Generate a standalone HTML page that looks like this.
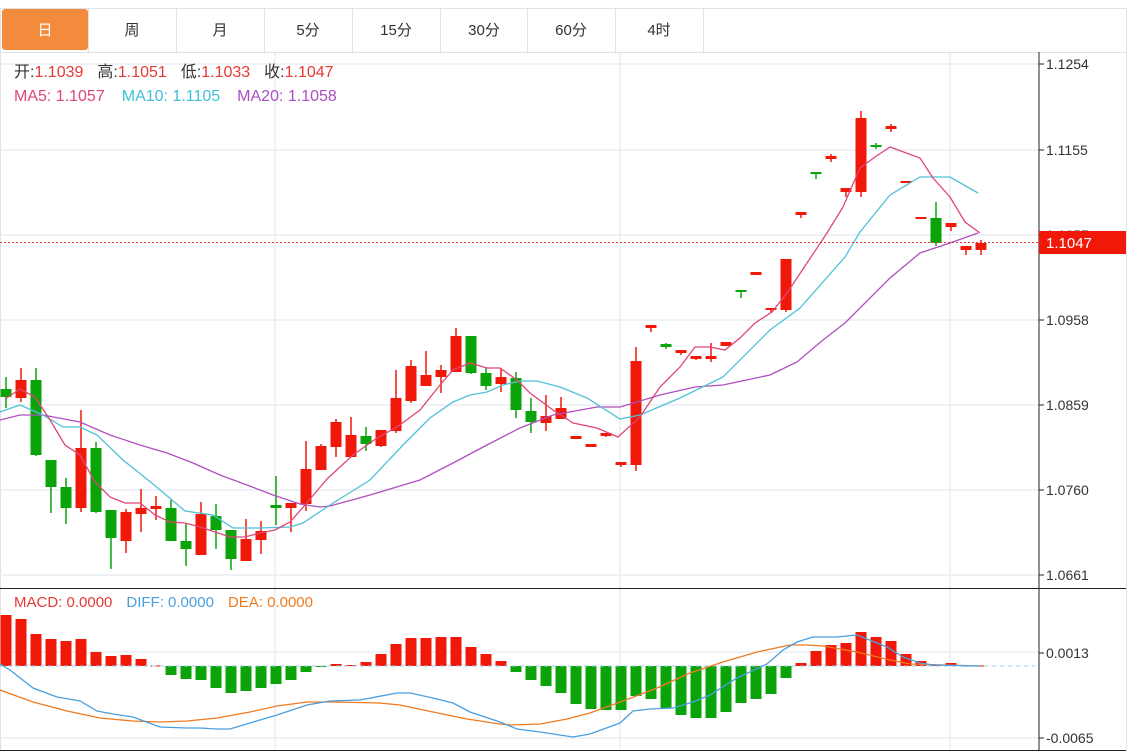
<!DOCTYPE html>
<html><head><meta charset="utf-8"><style>
body{margin:0;background:#fff;width:1134px;height:756px;overflow:hidden;font-family:"Liberation Sans","Noto Sans CJK SC",sans-serif}
svg{position:absolute;left:0;top:0}
</style></head><body>
<svg id="s" width="1134" height="756" xmlns="http://www.w3.org/2000/svg" font-family="Liberation Sans, Noto Sans CJK SC, sans-serif">
<rect x="0.5" y="8.5" width="1126" height="742" fill="none" stroke="#dfe3e8"/>
<line x1="0" y1="52.5" x2="1126" y2="52.5" stroke="#dfe3e8"/>
<rect x="2" y="9" width="86" height="41" rx="3" fill="#f28c3c"/>
<g font-size="15" text-anchor="middle" fill="#333">
<text x="45" y="35" fill="#fff">日</text><text x="132" y="35">周</text><text x="220" y="35">月</text><text x="308" y="35">5分</text><text x="396" y="35">15分</text><text x="484" y="35">30分</text><text x="571" y="35">60分</text><text x="659" y="35">4时</text>
</g>
<g stroke="#dfe3e8"><line x1="88.5" y1="9" x2="88.5" y2="52"/><line x1="176.5" y1="9" x2="176.5" y2="52"/><line x1="264.5" y1="9" x2="264.5" y2="52"/><line x1="352.5" y1="9" x2="352.5" y2="52"/><line x1="440.5" y1="9" x2="440.5" y2="52"/><line x1="527.5" y1="9" x2="527.5" y2="52"/><line x1="615.5" y1="9" x2="615.5" y2="52"/><line x1="703.5" y1="9" x2="703.5" y2="52"/></g>
<g id="grid" stroke="#e8eef4" stroke-width="1.5"></g>
<g id="main"></g>
<line x1="1039" y1="52" x2="1039" y2="751" stroke="#222"/>
<line x1="0" y1="588.5" x2="1126" y2="588.5" stroke="#222"/>
<line x1="0" y1="750.5" x2="1126" y2="750.5" stroke="#222"/>
<g font-size="14" fill="#333" id="ax"></g>
<line x1="0" y1="242.5" x2="1039" y2="242.5" stroke="#e83a3a" stroke-dasharray="2,2"/>
<rect x="1039" y="231" width="87" height="23" fill="#f01808"/>
<text x="1046" y="248" font-size="15" fill="#fff">1.1047</text>
<g font-size="16">
<text x="14" y="77"><tspan fill="#333">开:</tspan><tspan fill="#e53935">1.1039</tspan><tspan fill="#333" dx="14">高:</tspan><tspan fill="#e53935">1.1051</tspan><tspan fill="#333" dx="14">低:</tspan><tspan fill="#e53935">1.1033</tspan><tspan fill="#333" dx="14">收:</tspan><tspan fill="#e53935">1.1047</tspan></text>
<text x="14" y="101"><tspan fill="#e0457b">MA5: 1.1057</tspan><tspan fill="#3fbfd6" dx="17">MA10: 1.1105</tspan><tspan fill="#a94fc0" dx="17">MA20: 1.1058</tspan></text>
</g>
<g font-size="15">
<text x="14" y="607"><tspan fill="#e53935">MACD: 0.0000</tspan><tspan fill="#4a9fe0" dx="14">DIFF: 0.0000</tspan><tspan fill="#f07a20" dx="14">DEA: 0.0000</tspan></text>
</g>
</svg>
<script>
var NS="http://www.w3.org/2000/svg",g=document.getElementById('main'),gr=document.getElementById('grid'),ax=document.getElementById('ax');
function el(p,t,a){var e=document.createElementNS(NS,t);for(var k in a)e.setAttribute(k,a[k]);p.appendChild(e);return e;}
[64,150,235,320,405,490,575,652,738].forEach(function(y){el(gr,'line',{x1:0,y1:y,x2:1039,y2:y});});
[275,620,950].forEach(function(x){el(gr,'line',{x1:x,y1:53,x2:x,y2:750});});
[[64,'1.1254'],[150,'1.1155'],[235,'1.1057'],[320,'1.0958'],[405,'1.0859'],[490,'1.0760'],[575,'1.0661'],[653,'0.0013'],[738,'-0.0065']].forEach(function(t){
el(ax,'line',{x1:1039,y1:t[0],x2:1044,y2:t[0],stroke:'#222'});var tx=el(ax,'text',{x:1046,y:t[0]+5});tx.textContent=t[1];});
var C=[[0,389,397,377,408],[1,380,398,368,402],[0,380,455,368,456],[0,460,487,460,513],[0,487,508,478,524],[1,448,508,410,512],[0,448,512,442,513],[0,510,538,510,569],[1,512,541,509,553],[1,508,514,489,532],[1,506,509,496,520],[0,508,541,500,541],[0,541,549,524,566],[1,514,555,502,555],[0,516,530,504,549],[0,530,559,530,570],[1,539,561,519,561],[1,531,540,521,554],[0,505,508,476,525],[1,503,508,503,532],[1,469,504,441,511],[1,446,470,444,470],[1,422,447,419,457],[1,435,457,417,457],[0,436,444,427,451],[1,430,446,430,447],[1,398,431,370,433],[1,366,401,360,403],[1,375,386,351,386],[1,370,377,365,393],[1,336,372,328,372],[0,336,373,336,374],[0,373,386,368,390],[1,377,384,368,392],[0,378,410,372,418],[0,411,422,398,433],[1,416,423,395,431],[1,408,419,397,419],[1,436,439,436,439],[1,444,447,444,447],[1,433,436,433,437],[1,462,465,462,467],[1,361,465,347,471],[1,325,328,325,332],[0,344,347,343,349],[1,350,353,350,355],[1,356,359,356,360],[1,356,359,343,362],[1,342,346,342,346],[0,290,292,290,298],[1,272,275,272,275],[1,308,310,308,313],[1,259,310,259,312],[1,212,215,212,218],[0,172,174,172,179],[1,156,159,154,162],[1,188,192,188,197],[1,118,192,111,197],[0,145,147,143,149],[1,126,129,124,132],[1,181,183,181,183],[1,217,219,217,219],[0,218,243,202,246],[1,223,227,223,231],[1,246,250,246,255],[1,243,250,240,255]];
C.forEach(function(c,i){var x=6+15*i,col=c[0]?'#f01808':'#0aa30a';
el(g,'line',{x1:x,y1:c[3],x2:x,y2:c[4],stroke:col,'stroke-width':1.5});
var h=Math.max(c[2]-c[1],2);el(g,'rect',{x:x-5.5,y:c[1],width:11,height:h,fill:col});});
function pl(pts,col,w){el(g,'polyline',{points:pts.map(function(p){return p.join(',')}).join(' '),fill:'none',stroke:col,'stroke-width':w||1.3});}
pl([[0,420],[20,415],[43,415],[80,422],[110,435],[140,445],[167,453],[193,463],[220,475],[247,485],[273,495],[300,504],[320,507],[330,506],[370,495],[420,480],[453,463],[487,445],[520,428],[553,415],[597,407],[620,407],[650,398],[660,395],[695,387],[723,385],[770,375],[797,362],[823,340],[845,323],[890,278],[920,253],[950,243],[978,233]],'#b04fc0');
pl([[0,412],[20,405],[43,415],[63,427],[80,427],[97,435],[123,460],[153,484],[185,511],[213,515],[233,528],[260,528],[290,527],[303,523],[330,505],[370,480],[403,445],[430,418],[453,402],[470,395],[487,392],[503,385],[520,381],[537,381],[560,387],[587,398],[620,419],[640,415],[680,398],[723,377],[770,330],[800,308],[845,257],[860,232],[890,195],[920,177],[950,177],[978,193]],'#4fc1d6');
pl([[5,399],[20,389],[35,397],[50,420],[65,445],[80,455],[95,482],[110,497],[125,503],[140,503],[155,515],[170,522],[185,523],[200,527],[215,532],[230,537],[245,537],[260,533],[275,530],[290,522],[305,505],[327,479],[353,455],[377,438],[397,427],[420,410],[440,385],[453,370],[470,363],[487,368],[500,368],[517,380],[530,393],[553,410],[573,423],[597,428],[618,437],[640,417],[660,387],[680,367],[695,347],[710,347],[725,350],[740,338],[755,323],[772,312],[787,293],[807,263],[827,233],[843,207],[860,168],[875,157],[890,147],[920,158],[933,178],[950,197],[965,222],[980,233]],'#e0457b');
var Z=666,H=[615,619,634,639,641,639,652,656,655,659,666,675,679,680,688,693,691,688,684,680,672,667,664,665,662,654,644,638,638,637,637,647,654,661,672,680,686,693,704,709,710,710,696,699,708,715,718,718,712,703,699,694,678,663,651,645,643,632,637,641,654,661,665,663,666,666];
H.forEach(function(y,i){var x=6+15*i;if(Math.abs(y-Z)<1){el(g,'line',{x1:x-5.5,y1:Z,x2:x+5.5,y2:Z,stroke:'#f01808'});return;}
var up=y<Z;el(g,'rect',{x:x-5.5,y:Math.min(y,Z),width:11,height:Math.abs(y-Z),fill:up?'#f01808':'#0aa30a'});});
el(g,'line',{x1:0,y1:Z,x2:1035,y2:Z,stroke:'#9fc9e8','stroke-dasharray':'4,4'});
pl([[0,690],[33,702],[67,711],[100,718],[133,721],[160,722],[187,721],[217,718],[250,712],[277,706],[307,702],[333,702],[380,703],[400,705],[433,712],[467,719],[500,724],[510,725],[540,724],[567,719],[590,713],[623,701],[657,688],[690,673],[723,662],[757,652],[790,645],[807,645],[823,646],[857,652],[890,660],[910,664],[980,666]],'#f07a20');
pl([[0,664],[10,670],[33,688],[57,697],[80,701],[97,711],[113,714],[133,717],[160,727],[187,728],[200,728],[217,729],[230,729],[250,723],[277,715],[307,705],[330,701],[360,700],[397,693],[410,693],[433,698],[453,703],[470,712],[500,722],[517,729],[540,732],[573,737],[590,734],[620,723],[633,711],[650,709],[673,708],[693,702],[710,695],[737,678],[767,664],[783,650],[797,642],[813,637],[837,637],[857,635],[887,647],[903,657],[920,663],[933,665],[980,666]],'#4a9fe0');
</script>
</body></html>
